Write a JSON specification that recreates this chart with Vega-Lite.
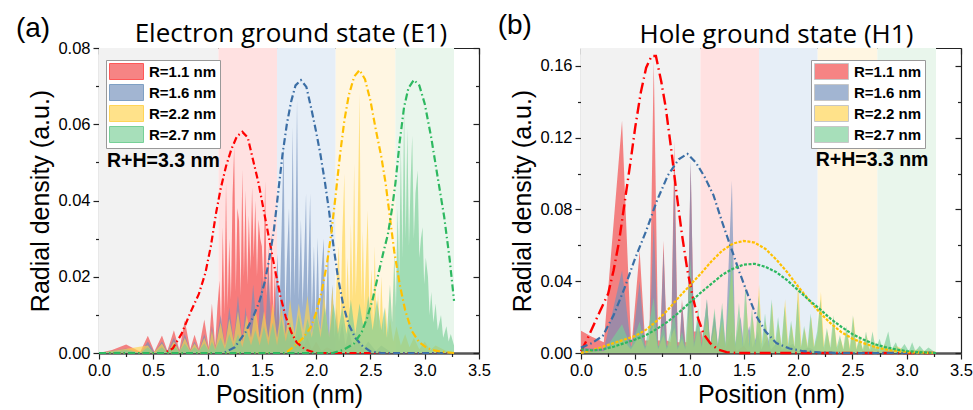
{
"$schema":"https://vega.github.io/schema/vega-lite/v6.json",
"padding":{"left":15,"top":12,"right":0,"bottom":0},
"config":{
 "font":"Liberation Sans",
 "view":{"stroke":null},
 "axis":{"labelFont":"Liberation Sans","titleFont":"Liberation Sans","labelFontSize":16.5,"titleFontSize":25,"titleFontWeight":"normal","labelColor":"#000","titleColor":"#000","tickColor":"#222","domainColor":"#222","grid":false,"zindex":2,"tickWidth":1.2,"domainWidth":1.2,"labelFlush":false},
 "legend":{"orient":"none","title":null,"symbolType":"M-2.125,-1H2.125V1H-2.125Z","symbolSize":256,"symbolOffset":9,"symbolStrokeColor":"#aaa","symbolStrokeWidth":1,"labelFont":"Liberation Sans","labelFontWeight":"bold","labelFontSize":15,"labelColor":"#000","fillColor":"#fff","strokeColor":"#999","padding":3,"rowPadding":0,"labelOffset":14}
},
"datasets":{
 "bands":[{"zone":"core","x0":0,"x1":1.1},{"zone":"s1","x0":1.1,"x1":1.64},{"zone":"s2","x0":1.64,"x1":2.18},{"zone":"s3","x0":2.18,"x1":2.73},{"zone":"s4","x0":2.73,"x1":3.27}],
 "areaA":[
{"R":1.1,"x":0,"y":0},{"R":1.1,"x":0.12,"y":0.0008},{"R":1.1,"x":0.25,"y":0.0022},{"R":1.1,"x":0.38,"y":0.0003},{"R":1.1,"x":0.45,"y":0.0045},{"R":1.1,"x":0.51,"y":0.0004},{"R":1.1,"x":0.58,"y":0.0046},{"R":1.1,"x":0.63,"y":0.0006},{"R":1.1,"x":0.69,"y":0.006},{"R":1.1,"x":0.74,"y":0.0008},{"R":1.1,"x":0.79,"y":0.0085},{"R":1.1,"x":0.84,"y":0.001},{"R":1.1,"x":0.88,"y":0.0048},{"R":1.1,"x":0.92,"y":0.0012},{"R":1.1,"x":0.97,"y":0.0088},{"R":1.1,"x":1.01,"y":0.0015},{"R":1.1,"x":1.04,"y":0.013},{"R":1.1,"x":1.07,"y":0.002},{"R":1.1,"x":1.09,"y":0.012},{"R":1.1,"x":1.11,"y":0.019},{"R":1.1,"x":1.125,"y":0.006},{"R":1.1,"x":1.14,"y":0.033},{"R":1.1,"x":1.155,"y":0.01},{"R":1.1,"x":1.17,"y":0.0445},{"R":1.1,"x":1.185,"y":0.012},{"R":1.1,"x":1.2,"y":0.03},{"R":1.1,"x":1.215,"y":0.014},{"R":1.1,"x":1.23,"y":0.041},{"R":1.1,"x":1.245,"y":0.054},{"R":1.1,"x":1.26,"y":0.016},{"R":1.1,"x":1.275,"y":0.038},{"R":1.1,"x":1.29,"y":0.0347},{"R":1.1,"x":1.305,"y":0.015},{"R":1.1,"x":1.32,"y":0.048},{"R":1.1,"x":1.335,"y":0.02},{"R":1.1,"x":1.35,"y":0.0426},{"R":1.1,"x":1.365,"y":0.018},{"R":1.1,"x":1.38,"y":0.036},{"R":1.1,"x":1.395,"y":0.022},{"R":1.1,"x":1.41,"y":0.0435},{"R":1.1,"x":1.425,"y":0.025},{"R":1.1,"x":1.44,"y":0.04},{"R":1.1,"x":1.455,"y":0.02},{"R":1.1,"x":1.47,"y":0.035},{"R":1.1,"x":1.485,"y":0.03},{"R":1.1,"x":1.5,"y":0.028},{"R":1.1,"x":1.515,"y":0.018},{"R":1.1,"x":1.53,"y":0.045},{"R":1.1,"x":1.545,"y":0.015},{"R":1.1,"x":1.56,"y":0.028},{"R":1.1,"x":1.575,"y":0.012},{"R":1.1,"x":1.59,"y":0.032},{"R":1.1,"x":1.605,"y":0.01},{"R":1.1,"x":1.62,"y":0.022},{"R":1.1,"x":1.635,"y":0.008},{"R":1.1,"x":1.65,"y":0.016},{"R":1.1,"x":1.665,"y":0.006},{"R":1.1,"x":1.68,"y":0.012},{"R":1.1,"x":1.7,"y":0.004},{"R":1.1,"x":1.72,"y":0.009},{"R":1.1,"x":1.75,"y":0.003},{"R":1.1,"x":1.78,"y":0.007},{"R":1.1,"x":1.81,"y":0.002},{"R":1.1,"x":1.84,"y":0.005},{"R":1.1,"x":1.88,"y":0.0015},{"R":1.1,"x":1.92,"y":0.004},{"R":1.1,"x":1.96,"y":0.001},{"R":1.1,"x":2.0,"y":0.003},{"R":1.1,"x":2.05,"y":0.0005},{"R":1.1,"x":2.1,"y":0.0015},{"R":1.1,"x":2.2,"y":0},{"R":1.1,"x":3.27,"y":0},
{"R":1.6,"x":0,"y":0},{"R":1.6,"x":0.25,"y":0.0012},{"R":1.6,"x":0.38,"y":0},{"R":1.6,"x":0.45,"y":0.003},{"R":1.6,"x":0.51,"y":0.0002},{"R":1.6,"x":0.58,"y":0.003},{"R":1.6,"x":0.63,"y":0.0003},{"R":1.6,"x":0.69,"y":0.004},{"R":1.6,"x":0.74,"y":0.0004},{"R":1.6,"x":0.79,"y":0.005},{"R":1.6,"x":0.84,"y":0.0005},{"R":1.6,"x":0.88,"y":0.003},{"R":1.6,"x":0.92,"y":0.0006},{"R":1.6,"x":0.97,"y":0.005},{"R":1.6,"x":1.01,"y":0.0008},{"R":1.6,"x":1.04,"y":0.007},{"R":1.6,"x":1.07,"y":0.001},{"R":1.6,"x":1.12,"y":0.01},{"R":1.6,"x":1.16,"y":0.002},{"R":1.6,"x":1.2,"y":0.012},{"R":1.6,"x":1.24,"y":0.003},{"R":1.6,"x":1.28,"y":0.015},{"R":1.6,"x":1.32,"y":0.003},{"R":1.6,"x":1.35,"y":0.012},{"R":1.6,"x":1.38,"y":0.004},{"R":1.6,"x":1.42,"y":0.018},{"R":1.6,"x":1.46,"y":0.004},{"R":1.6,"x":1.5,"y":0.02},{"R":1.6,"x":1.53,"y":0.005},{"R":1.6,"x":1.56,"y":0.022},{"R":1.6,"x":1.59,"y":0.005},{"R":1.6,"x":1.62,"y":0.012},{"R":1.6,"x":1.645,"y":0.026},{"R":1.6,"x":1.66,"y":0.008},{"R":1.6,"x":1.68,"y":0.03},{"R":1.6,"x":1.7,"y":0.0558},{"R":1.6,"x":1.715,"y":0.01},{"R":1.6,"x":1.73,"y":0.024},{"R":1.6,"x":1.75,"y":0.038},{"R":1.6,"x":1.765,"y":0.012},{"R":1.6,"x":1.784,"y":0.0593},{"R":1.6,"x":1.8,"y":0.015},{"R":1.6,"x":1.81,"y":0.03},{"R":1.6,"x":1.824,"y":0.0663},{"R":1.6,"x":1.84,"y":0.014},{"R":1.6,"x":1.86,"y":0.035},{"R":1.6,"x":1.875,"y":0.012},{"R":1.6,"x":1.89,"y":0.025},{"R":1.6,"x":1.907,"y":0.0418},{"R":1.6,"x":1.92,"y":0.013},{"R":1.6,"x":1.945,"y":0.0418},{"R":1.6,"x":1.96,"y":0.01},{"R":1.6,"x":1.98,"y":0.028},{"R":1.6,"x":1.995,"y":0.008},{"R":1.6,"x":2.014,"y":0.0303},{"R":1.6,"x":2.03,"y":0.008},{"R":1.6,"x":2.05,"y":0.022},{"R":1.6,"x":2.07,"y":0.03},{"R":1.6,"x":2.085,"y":0.006},{"R":1.6,"x":2.11,"y":0.028},{"R":1.6,"x":2.125,"y":0.005},{"R":1.6,"x":2.15,"y":0.018},{"R":1.6,"x":2.17,"y":0.004},{"R":1.6,"x":2.19,"y":0.012},{"R":1.6,"x":2.21,"y":0.003},{"R":1.6,"x":2.24,"y":0.008},{"R":1.6,"x":2.27,"y":0.002},{"R":1.6,"x":2.3,"y":0.006},{"R":1.6,"x":2.34,"y":0.0015},{"R":1.6,"x":2.38,"y":0.004},{"R":1.6,"x":2.43,"y":0.001},{"R":1.6,"x":2.48,"y":0.003},{"R":1.6,"x":2.55,"y":0.0005},{"R":1.6,"x":2.6,"y":0.002},{"R":1.6,"x":2.7,"y":0},{"R":1.6,"x":3.27,"y":0},
{"R":2.2,"x":0,"y":0},{"R":2.2,"x":0.45,"y":0.002},{"R":2.2,"x":0.5,"y":0},{"R":2.2,"x":0.58,"y":0.0025},{"R":2.2,"x":0.63,"y":0},{"R":2.2,"x":0.69,"y":0.003},{"R":2.2,"x":0.74,"y":0.0003},{"R":2.2,"x":0.79,"y":0.004},{"R":2.2,"x":0.84,"y":0.0005},{"R":2.2,"x":0.88,"y":0.0025},{"R":2.2,"x":0.92,"y":0.0005},{"R":2.2,"x":0.97,"y":0.004},{"R":2.2,"x":1.01,"y":0.0008},{"R":2.2,"x":1.04,"y":0.006},{"R":2.2,"x":1.07,"y":0.001},{"R":2.2,"x":1.12,"y":0.008},{"R":2.2,"x":1.16,"y":0.002},{"R":2.2,"x":1.2,"y":0.009},{"R":2.2,"x":1.24,"y":0.003},{"R":2.2,"x":1.28,"y":0.011},{"R":2.2,"x":1.32,"y":0.003},{"R":2.2,"x":1.36,"y":0.01},{"R":2.2,"x":1.4,"y":0.004},{"R":2.2,"x":1.44,"y":0.012},{"R":2.2,"x":1.48,"y":0.004},{"R":2.2,"x":1.52,"y":0.011},{"R":2.2,"x":1.56,"y":0.004},{"R":2.2,"x":1.6,"y":0.013},{"R":2.2,"x":1.64,"y":0.004},{"R":2.2,"x":1.68,"y":0.012},{"R":2.2,"x":1.72,"y":0.005},{"R":2.2,"x":1.76,"y":0.014},{"R":2.2,"x":1.8,"y":0.005},{"R":2.2,"x":1.84,"y":0.013},{"R":2.2,"x":1.88,"y":0.006},{"R":2.2,"x":1.92,"y":0.015},{"R":2.2,"x":1.96,"y":0.005},{"R":2.2,"x":2.0,"y":0.012},{"R":2.2,"x":2.04,"y":0.006},{"R":2.2,"x":2.07,"y":0.016},{"R":2.2,"x":2.1,"y":0.008},{"R":2.2,"x":2.12,"y":0.004},{"R":2.2,"x":2.15,"y":0.0175},{"R":2.2,"x":2.17,"y":0.006},{"R":2.2,"x":2.19,"y":0.02},{"R":2.2,"x":2.21,"y":0.028},{"R":2.2,"x":2.225,"y":0.008},{"R":2.2,"x":2.24,"y":0.03},{"R":2.2,"x":2.26,"y":0.047},{"R":2.2,"x":2.275,"y":0.012},{"R":2.2,"x":2.29,"y":0.025},{"R":2.2,"x":2.305,"y":0.01},{"R":2.2,"x":2.32,"y":0.034},{"R":2.2,"x":2.335,"y":0.014},{"R":2.2,"x":2.35,"y":0.0497},{"R":2.2,"x":2.365,"y":0.015},{"R":2.2,"x":2.38,"y":0.03},{"R":2.2,"x":2.4,"y":0.068},{"R":2.2,"x":2.415,"y":0.014},{"R":2.2,"x":2.43,"y":0.032},{"R":2.2,"x":2.445,"y":0.012},{"R":2.2,"x":2.46,"y":0.025},{"R":2.2,"x":2.475,"y":0.0374},{"R":2.2,"x":2.49,"y":0.012},{"R":2.2,"x":2.51,"y":0.022},{"R":2.2,"x":2.525,"y":0.008},{"R":2.2,"x":2.54,"y":0.028},{"R":2.2,"x":2.555,"y":0.007},{"R":2.2,"x":2.57,"y":0.016},{"R":2.2,"x":2.585,"y":0.006},{"R":2.2,"x":2.6,"y":0.02},{"R":2.2,"x":2.62,"y":0.005},{"R":2.2,"x":2.64,"y":0.012},{"R":2.2,"x":2.66,"y":0.004},{"R":2.2,"x":2.68,"y":0.009},{"R":2.2,"x":2.71,"y":0.003},{"R":2.2,"x":2.74,"y":0.007},{"R":2.2,"x":2.78,"y":0.002},{"R":2.2,"x":2.82,"y":0.005},{"R":2.2,"x":2.86,"y":0.0015},{"R":2.2,"x":2.9,"y":0.004},{"R":2.2,"x":2.95,"y":0.001},{"R":2.2,"x":3.0,"y":0.003},{"R":2.2,"x":3.05,"y":0.0008},{"R":2.2,"x":3.1,"y":0.002},{"R":2.2,"x":3.2,"y":0.0005},{"R":2.2,"x":3.27,"y":0},
{"R":2.7,"x":0,"y":0},{"R":2.7,"x":0.25,"y":0.0008},{"R":2.7,"x":0.38,"y":0},{"R":2.7,"x":0.45,"y":0.0015},{"R":2.7,"x":0.51,"y":0},{"R":2.7,"x":0.58,"y":0.0015},{"R":2.7,"x":0.63,"y":0.0002},{"R":2.7,"x":0.69,"y":0.002},{"R":2.7,"x":0.74,"y":0.0003},{"R":2.7,"x":0.79,"y":0.0025},{"R":2.7,"x":0.84,"y":0.0004},{"R":2.7,"x":0.88,"y":0.0015},{"R":2.7,"x":0.92,"y":0.0005},{"R":2.7,"x":0.97,"y":0.0025},{"R":2.7,"x":1.01,"y":0.0006},{"R":2.7,"x":1.04,"y":0.003},{"R":2.7,"x":1.07,"y":0.0008},{"R":2.7,"x":1.12,"y":0.004},{"R":2.7,"x":1.16,"y":0.001},{"R":2.7,"x":1.2,"y":0.005},{"R":2.7,"x":1.24,"y":0.0015},{"R":2.7,"x":1.28,"y":0.005},{"R":2.7,"x":1.32,"y":0.0015},{"R":2.7,"x":1.36,"y":0.006},{"R":2.7,"x":1.4,"y":0.002},{"R":2.7,"x":1.44,"y":0.006},{"R":2.7,"x":1.48,"y":0.002},{"R":2.7,"x":1.52,"y":0.007},{"R":2.7,"x":1.56,"y":0.002},{"R":2.7,"x":1.6,"y":0.008},{"R":2.7,"x":1.64,"y":0.002},{"R":2.7,"x":1.68,"y":0.009},{"R":2.7,"x":1.72,"y":0.003},{"R":2.7,"x":1.76,"y":0.008},{"R":2.7,"x":1.8,"y":0.003},{"R":2.7,"x":1.84,"y":0.01},{"R":2.7,"x":1.88,"y":0.003},{"R":2.7,"x":1.92,"y":0.009},{"R":2.7,"x":1.96,"y":0.004},{"R":2.7,"x":2.0,"y":0.011},{"R":2.7,"x":2.04,"y":0.004},{"R":2.7,"x":2.08,"y":0.012},{"R":2.7,"x":2.12,"y":0.004},{"R":2.7,"x":2.16,"y":0.013},{"R":2.7,"x":2.2,"y":0.005},{"R":2.7,"x":2.24,"y":0.012},{"R":2.7,"x":2.28,"y":0.005},{"R":2.7,"x":2.32,"y":0.014},{"R":2.7,"x":2.36,"y":0.005},{"R":2.7,"x":2.4,"y":0.013},{"R":2.7,"x":2.44,"y":0.006},{"R":2.7,"x":2.48,"y":0.015},{"R":2.7,"x":2.52,"y":0.006},{"R":2.7,"x":2.56,"y":0.014},{"R":2.7,"x":2.6,"y":0.006},{"R":2.7,"x":2.63,"y":0.012},{"R":2.7,"x":2.65,"y":0.004},{"R":2.7,"x":2.68,"y":0.018},{"R":2.7,"x":2.7,"y":0.008},{"R":2.7,"x":2.72,"y":0.026},{"R":2.7,"x":2.735,"y":0.012},{"R":2.7,"x":2.75,"y":0.038},{"R":2.7,"x":2.765,"y":0.02},{"R":2.7,"x":2.78,"y":0.054},{"R":2.7,"x":2.795,"y":0.025},{"R":2.7,"x":2.81,"y":0.0637},{"R":2.7,"x":2.825,"y":0.03},{"R":2.7,"x":2.84,"y":0.059},{"R":2.7,"x":2.855,"y":0.028},{"R":2.7,"x":2.87,"y":0.045},{"R":2.7,"x":2.885,"y":0.057},{"R":2.7,"x":2.9,"y":0.03},{"R":2.7,"x":2.915,"y":0.042},{"R":2.7,"x":2.935,"y":0.0479},{"R":2.7,"x":2.95,"y":0.025},{"R":2.7,"x":2.965,"y":0.03},{"R":2.7,"x":2.98,"y":0.033},{"R":2.7,"x":2.995,"y":0.018},{"R":2.7,"x":3.01,"y":0.025},{"R":2.7,"x":3.03,"y":0.02},{"R":2.7,"x":3.045,"y":0.01},{"R":2.7,"x":3.06,"y":0.016},{"R":2.7,"x":3.08,"y":0.008},{"R":2.7,"x":3.1,"y":0.013},{"R":2.7,"x":3.12,"y":0.006},{"R":2.7,"x":3.15,"y":0.01},{"R":2.7,"x":3.17,"y":0.004},{"R":2.7,"x":3.2,"y":0.007},{"R":2.7,"x":3.22,"y":0.003},{"R":2.7,"x":3.24,"y":0.005},{"R":2.7,"x":3.27,"y":0.002}
 ],
 "curveA":[
{"S":1.1,"x":0,"y":0},{"S":1.1,"x":0.6,"y":0},{"S":1.1,"x":0.68,"y":0.0012},{"S":1.1,"x":0.76,"y":0.005},{"S":1.1,"x":0.84,"y":0.0105},{"S":1.1,"x":0.92,"y":0.0155},{"S":1.1,"x":0.98,"y":0.021},{"S":1.1,"x":1.03,"y":0.028},{"S":1.1,"x":1.08,"y":0.037},{"S":1.1,"x":1.12,"y":0.043},{"S":1.1,"x":1.17,"y":0.049},{"S":1.1,"x":1.22,"y":0.0535},{"S":1.1,"x":1.27,"y":0.0568},{"S":1.1,"x":1.32,"y":0.058},{"S":1.1,"x":1.37,"y":0.0565},{"S":1.1,"x":1.42,"y":0.0505},{"S":1.1,"x":1.47,"y":0.0445},{"S":1.1,"x":1.52,"y":0.037},{"S":1.1,"x":1.57,"y":0.0295},{"S":1.1,"x":1.62,"y":0.022},{"S":1.1,"x":1.67,"y":0.015},{"S":1.1,"x":1.72,"y":0.0095},{"S":1.1,"x":1.77,"y":0.0055},{"S":1.1,"x":1.82,"y":0.0028},{"S":1.1,"x":1.9,"y":0.0009},{"S":1.1,"x":2.0,"y":0},{"S":1.1,"x":3.27,"y":0},
{"S":1.6,"x":0,"y":0},{"S":1.6,"x":1.15,"y":0},{"S":1.6,"x":1.25,"y":0.0015},{"S":1.6,"x":1.35,"y":0.0055},{"S":1.6,"x":1.42,"y":0.0095},{"S":1.6,"x":1.48,"y":0.0137},{"S":1.6,"x":1.53,"y":0.019},{"S":1.6,"x":1.57,"y":0.025},{"S":1.6,"x":1.61,"y":0.032},{"S":1.6,"x":1.65,"y":0.042},{"S":1.6,"x":1.69,"y":0.052},{"S":1.6,"x":1.73,"y":0.06},{"S":1.6,"x":1.77,"y":0.066},{"S":1.6,"x":1.81,"y":0.0702},{"S":1.6,"x":1.86,"y":0.0716},{"S":1.6,"x":1.91,"y":0.0698},{"S":1.6,"x":1.96,"y":0.0635},{"S":1.6,"x":2.0,"y":0.058},{"S":1.6,"x":2.04,"y":0.052},{"S":1.6,"x":2.08,"y":0.045},{"S":1.6,"x":2.12,"y":0.037},{"S":1.6,"x":2.16,"y":0.028},{"S":1.6,"x":2.2,"y":0.02},{"S":1.6,"x":2.25,"y":0.0125},{"S":1.6,"x":2.3,"y":0.0075},{"S":1.6,"x":2.36,"y":0.004},{"S":1.6,"x":2.42,"y":0.002},{"S":1.6,"x":2.5,"y":0.0004},{"S":1.6,"x":2.6,"y":0},{"S":1.6,"x":3.27,"y":0},
{"S":2.2,"x":0,"y":0},{"S":2.2,"x":1.72,"y":0},{"S":2.2,"x":1.8,"y":0.0018},{"S":2.2,"x":1.88,"y":0.004},{"S":2.2,"x":1.95,"y":0.0067},{"S":2.2,"x":2.0,"y":0.0105},{"S":2.2,"x":2.05,"y":0.016},{"S":2.2,"x":2.1,"y":0.0235},{"S":2.2,"x":2.14,"y":0.0315},{"S":2.2,"x":2.18,"y":0.0415},{"S":2.2,"x":2.22,"y":0.052},{"S":2.2,"x":2.26,"y":0.061},{"S":2.2,"x":2.3,"y":0.0675},{"S":2.2,"x":2.35,"y":0.0725},{"S":2.2,"x":2.4,"y":0.0742},{"S":2.2,"x":2.45,"y":0.0718},{"S":2.2,"x":2.5,"y":0.0662},{"S":2.2,"x":2.55,"y":0.0585},{"S":2.2,"x":2.6,"y":0.0515},{"S":2.2,"x":2.64,"y":0.0445},{"S":2.2,"x":2.68,"y":0.0355},{"S":2.2,"x":2.72,"y":0.0265},{"S":2.2,"x":2.77,"y":0.018},{"S":2.2,"x":2.82,"y":0.0112},{"S":2.2,"x":2.88,"y":0.0058},{"S":2.2,"x":2.95,"y":0.0028},{"S":2.2,"x":3.02,"y":0.0013},{"S":2.2,"x":3.1,"y":0.0006},{"S":2.2,"x":3.2,"y":0.0002},{"S":2.2,"x":3.27,"y":0},
{"S":2.7,"x":0,"y":0},{"S":2.7,"x":2.15,"y":0},{"S":2.7,"x":2.25,"y":0.0008},{"S":2.7,"x":2.35,"y":0.0025},{"S":2.7,"x":2.42,"y":0.0055},{"S":2.7,"x":2.47,"y":0.0093},{"S":2.7,"x":2.52,"y":0.014},{"S":2.7,"x":2.566,"y":0.0198},{"S":2.7,"x":2.62,"y":0.0265},{"S":2.7,"x":2.66,"y":0.031},{"S":2.7,"x":2.7,"y":0.038},{"S":2.7,"x":2.73,"y":0.0445},{"S":2.7,"x":2.77,"y":0.0555},{"S":2.7,"x":2.81,"y":0.0645},{"S":2.7,"x":2.85,"y":0.0695},{"S":2.7,"x":2.9,"y":0.0716},{"S":2.7,"x":2.95,"y":0.0702},{"S":2.7,"x":3.0,"y":0.0654},{"S":2.7,"x":3.06,"y":0.0565},{"S":2.7,"x":3.12,"y":0.046},{"S":2.7,"x":3.18,"y":0.0356},{"S":2.7,"x":3.23,"y":0.0245},{"S":2.7,"x":3.27,"y":0.0137}
 ],
 "areaB":[
{"R":1.1,"x":0,"y":0.0124},{"R":1.1,"x":0.1,"y":0.009},{"R":1.1,"x":0.21,"y":0.006},{"R":1.1,"x":0.378,"y":0.1295},{"R":1.1,"x":0.46,"y":0.007},{"R":1.1,"x":0.47,"y":0.007},{"R":1.1,"x":0.54,"y":0.057},{"R":1.1,"x":0.59,"y":0.007},{"R":1.1,"x":0.63,"y":0.007},{"R":1.1,"x":0.67,"y":0.163},{"R":1.1,"x":0.71,"y":0.007},{"R":1.1,"x":0.73,"y":0.007},{"R":1.1,"x":0.76,"y":0.0626},{"R":1.1,"x":0.79,"y":0.007},{"R":1.1,"x":0.83,"y":0.006},{"R":1.1,"x":0.86,"y":0.118},{"R":1.1,"x":0.89,"y":0.006},{"R":1.1,"x":0.91,"y":0.006},{"R":1.1,"x":0.93,"y":0.03},{"R":1.1,"x":0.96,"y":0.006},{"R":1.1,"x":0.98,"y":0.006},{"R":1.1,"x":1.01,"y":0.105},{"R":1.1,"x":1.04,"y":0.012},{"R":1.1,"x":1.08,"y":0.012},{"R":1.1,"x":1.11,"y":0.012},{"R":1.1,"x":1.13,"y":0.003},{"R":1.1,"x":1.16,"y":0.028},{"R":1.1,"x":1.19,"y":0.003},{"R":1.1,"x":1.23,"y":0.02},{"R":1.1,"x":1.26,"y":0.003},{"R":1.1,"x":1.3,"y":0.015},{"R":1.1,"x":1.33,"y":0.002},{"R":1.1,"x":1.39,"y":0.012},{"R":1.1,"x":1.43,"y":0.001},{"R":1.1,"x":1.5,"y":0.004},{"R":1.1,"x":1.55,"y":0},{"R":1.1,"x":3.27,"y":0},
{"R":1.6,"x":0,"y":0.003},{"R":1.6,"x":0.21,"y":0.002},{"R":1.6,"x":0.378,"y":0.046},{"R":1.6,"x":0.46,"y":0.004},{"R":1.6,"x":0.47,"y":0.004},{"R":1.6,"x":0.54,"y":0.04},{"R":1.6,"x":0.59,"y":0.004},{"R":1.6,"x":0.63,"y":0.004},{"R":1.6,"x":0.67,"y":0.074},{"R":1.6,"x":0.71,"y":0.004},{"R":1.6,"x":0.73,"y":0.004},{"R":1.6,"x":0.76,"y":0.058},{"R":1.6,"x":0.79,"y":0.004},{"R":1.6,"x":0.83,"y":0.004},{"R":1.6,"x":0.86,"y":0.1016},{"R":1.6,"x":0.89,"y":0.004},{"R":1.6,"x":0.91,"y":0.004},{"R":1.6,"x":0.93,"y":0.028},{"R":1.6,"x":0.96,"y":0.004},{"R":1.6,"x":0.98,"y":0.004},{"R":1.6,"x":1.01,"y":0.108},{"R":1.6,"x":1.04,"y":0.005},{"R":1.6,"x":1.08,"y":0.02},{"R":1.6,"x":1.11,"y":0.004},{"R":1.6,"x":1.16,"y":0.03},{"R":1.6,"x":1.19,"y":0.004},{"R":1.6,"x":1.23,"y":0.022},{"R":1.6,"x":1.26,"y":0.004},{"R":1.6,"x":1.3,"y":0.025},{"R":1.6,"x":1.33,"y":0.004},{"R":1.6,"x":1.39,"y":0.096},{"R":1.6,"x":1.42,"y":0.005},{"R":1.6,"x":1.47,"y":0.02},{"R":1.6,"x":1.5,"y":0.004},{"R":1.6,"x":1.55,"y":0.015},{"R":1.6,"x":1.58,"y":0.003},{"R":1.6,"x":1.63,"y":0.012},{"R":1.6,"x":1.66,"y":0.002},{"R":1.6,"x":1.72,"y":0.009},{"R":1.6,"x":1.75,"y":0.002},{"R":1.6,"x":1.82,"y":0.007},{"R":1.6,"x":1.85,"y":0.002},{"R":1.6,"x":1.95,"y":0.005},{"R":1.6,"x":2.0,"y":0.001},{"R":1.6,"x":2.1,"y":0.003},{"R":1.6,"x":2.2,"y":0},{"R":1.6,"x":3.27,"y":0},
{"R":2.2,"x":0,"y":0.0005},{"R":2.2,"x":0.21,"y":0.001},{"R":2.2,"x":0.378,"y":0.008},{"R":2.2,"x":0.46,"y":0.002},{"R":2.2,"x":0.54,"y":0.01},{"R":2.2,"x":0.59,"y":0.002},{"R":2.2,"x":0.67,"y":0.016},{"R":2.2,"x":0.71,"y":0.002},{"R":2.2,"x":0.76,"y":0.01},{"R":2.2,"x":0.79,"y":0.002},{"R":2.2,"x":0.86,"y":0.014},{"R":2.2,"x":0.89,"y":0.002},{"R":2.2,"x":0.93,"y":0.008},{"R":2.2,"x":0.96,"y":0.002},{"R":2.2,"x":1.01,"y":0.03},{"R":2.2,"x":1.04,"y":0.003},{"R":2.2,"x":1.08,"y":0.015},{"R":2.2,"x":1.11,"y":0.003},{"R":2.2,"x":1.16,"y":0.02},{"R":2.2,"x":1.19,"y":0.003},{"R":2.2,"x":1.23,"y":0.015},{"R":2.2,"x":1.26,"y":0.003},{"R":2.2,"x":1.3,"y":0.018},{"R":2.2,"x":1.33,"y":0.003},{"R":2.2,"x":1.39,"y":0.048},{"R":2.2,"x":1.42,"y":0.003},{"R":2.2,"x":1.46,"y":0.02},{"R":2.2,"x":1.49,"y":0.003},{"R":2.2,"x":1.52,"y":0.03},{"R":2.2,"x":1.55,"y":0.003},{"R":2.2,"x":1.58,"y":0.02},{"R":2.2,"x":1.61,"y":0.003},{"R":2.2,"x":1.64,"y":0.038},{"R":2.2,"x":1.67,"y":0.003},{"R":2.2,"x":1.7,"y":0.018},{"R":2.2,"x":1.73,"y":0.003},{"R":2.2,"x":1.76,"y":0.028},{"R":2.2,"x":1.79,"y":0.003},{"R":2.2,"x":1.82,"y":0.016},{"R":2.2,"x":1.85,"y":0.003},{"R":2.2,"x":1.88,"y":0.03},{"R":2.2,"x":1.91,"y":0.003},{"R":2.2,"x":1.94,"y":0.016},{"R":2.2,"x":1.97,"y":0.003},{"R":2.2,"x":2.0,"y":0.04},{"R":2.2,"x":2.03,"y":0.003},{"R":2.2,"x":2.06,"y":0.014},{"R":2.2,"x":2.09,"y":0.003},{"R":2.2,"x":2.12,"y":0.02},{"R":2.2,"x":2.15,"y":0.003},{"R":2.2,"x":2.18,"y":0.01},{"R":2.2,"x":2.21,"y":0.034},{"R":2.2,"x":2.24,"y":0.002},{"R":2.2,"x":2.27,"y":0.012},{"R":2.2,"x":2.3,"y":0.002},{"R":2.2,"x":2.33,"y":0.018},{"R":2.2,"x":2.36,"y":0.002},{"R":2.2,"x":2.39,"y":0.008},{"R":2.2,"x":2.42,"y":0.002},{"R":2.2,"x":2.45,"y":0.012},{"R":2.2,"x":2.48,"y":0.002},{"R":2.2,"x":2.51,"y":0.02},{"R":2.2,"x":2.54,"y":0.002},{"R":2.2,"x":2.57,"y":0.008},{"R":2.2,"x":2.6,"y":0.001},{"R":2.2,"x":2.63,"y":0.01},{"R":2.2,"x":2.66,"y":0.001},{"R":2.2,"x":2.7,"y":0.006},{"R":2.2,"x":2.75,"y":0.001},{"R":2.2,"x":2.8,"y":0.005},{"R":2.2,"x":2.85,"y":0.001},{"R":2.2,"x":2.9,"y":0.004},{"R":2.2,"x":3.0,"y":0.001},{"R":2.2,"x":3.1,"y":0.002},{"R":2.2,"x":3.27,"y":0},
{"R":2.7,"x":0,"y":0.001},{"R":2.7,"x":0.21,"y":0.001},{"R":2.7,"x":0.378,"y":0.016},{"R":2.7,"x":0.46,"y":0.003},{"R":2.7,"x":0.54,"y":0.0175},{"R":2.7,"x":0.59,"y":0.003},{"R":2.7,"x":0.67,"y":0.031},{"R":2.7,"x":0.71,"y":0.003},{"R":2.7,"x":0.76,"y":0.016},{"R":2.7,"x":0.79,"y":0.003},{"R":2.7,"x":0.86,"y":0.0225},{"R":2.7,"x":0.89,"y":0.003},{"R":2.7,"x":0.93,"y":0.012},{"R":2.7,"x":0.96,"y":0.003},{"R":2.7,"x":1.01,"y":0.053},{"R":2.7,"x":1.04,"y":0.005},{"R":2.7,"x":1.08,"y":0.025},{"R":2.7,"x":1.11,"y":0.004},{"R":2.7,"x":1.16,"y":0.03},{"R":2.7,"x":1.19,"y":0.004},{"R":2.7,"x":1.23,"y":0.025},{"R":2.7,"x":1.26,"y":0.004},{"R":2.7,"x":1.3,"y":0.028},{"R":2.7,"x":1.33,"y":0.005},{"R":2.7,"x":1.39,"y":0.055},{"R":2.7,"x":1.42,"y":0.005},{"R":2.7,"x":1.455,"y":0.028},{"R":2.7,"x":1.485,"y":0.005},{"R":2.7,"x":1.515,"y":0.0385},{"R":2.7,"x":1.545,"y":0.005},{"R":2.7,"x":1.575,"y":0.025},{"R":2.7,"x":1.605,"y":0.005},{"R":2.7,"x":1.635,"y":0.032},{"R":2.7,"x":1.665,"y":0.005},{"R":2.7,"x":1.695,"y":0.022},{"R":2.7,"x":1.725,"y":0.004},{"R":2.7,"x":1.755,"y":0.03},{"R":2.7,"x":1.785,"y":0.004},{"R":2.7,"x":1.815,"y":0.02},{"R":2.7,"x":1.845,"y":0.004},{"R":2.7,"x":1.875,"y":0.026},{"R":2.7,"x":1.905,"y":0.004},{"R":2.7,"x":1.935,"y":0.018},{"R":2.7,"x":1.965,"y":0.003},{"R":2.7,"x":1.995,"y":0.03},{"R":2.7,"x":2.025,"y":0.003},{"R":2.7,"x":2.055,"y":0.015},{"R":2.7,"x":2.085,"y":0.003},{"R":2.7,"x":2.115,"y":0.022},{"R":2.7,"x":2.145,"y":0.003},{"R":2.7,"x":2.175,"y":0.012},{"R":2.7,"x":2.205,"y":0.03},{"R":2.7,"x":2.235,"y":0.003},{"R":2.7,"x":2.265,"y":0.014},{"R":2.7,"x":2.295,"y":0.003},{"R":2.7,"x":2.325,"y":0.021},{"R":2.7,"x":2.355,"y":0.003},{"R":2.7,"x":2.385,"y":0.01},{"R":2.7,"x":2.415,"y":0.002},{"R":2.7,"x":2.445,"y":0.015},{"R":2.7,"x":2.475,"y":0.002},{"R":2.7,"x":2.505,"y":0.021},{"R":2.7,"x":2.535,"y":0.002},{"R":2.7,"x":2.565,"y":0.009},{"R":2.7,"x":2.595,"y":0.002},{"R":2.7,"x":2.625,"y":0.012},{"R":2.7,"x":2.655,"y":0.002},{"R":2.7,"x":2.685,"y":0.012},{"R":2.7,"x":2.715,"y":0.002},{"R":2.7,"x":2.75,"y":0.008},{"R":2.7,"x":2.78,"y":0.002},{"R":2.7,"x":2.83,"y":0.012},{"R":2.7,"x":2.86,"y":0.002},{"R":2.7,"x":2.9,"y":0.006},{"R":2.7,"x":2.93,"y":0.001},{"R":2.7,"x":2.98,"y":0.005},{"R":2.7,"x":3.02,"y":0.001},{"R":2.7,"x":3.05,"y":0.006},{"R":2.7,"x":3.08,"y":0.001},{"R":2.7,"x":3.12,"y":0.004},{"R":2.7,"x":3.16,"y":0.001},{"R":2.7,"x":3.2,"y":0.003},{"R":2.7,"x":3.27,"y":0}
 ],
 "curveB":[
{"S":1.1,"x":0,"y":0.001},{"S":1.1,"x":0.06,"y":0.008},{"S":1.1,"x":0.12,"y":0.016},{"S":1.1,"x":0.18,"y":0.024},{"S":1.1,"x":0.25,"y":0.033},{"S":1.1,"x":0.3,"y":0.046},{"S":1.1,"x":0.35,"y":0.062},{"S":1.1,"x":0.4,"y":0.083},{"S":1.1,"x":0.45,"y":0.104},{"S":1.1,"x":0.5,"y":0.126},{"S":1.1,"x":0.55,"y":0.145},{"S":1.1,"x":0.6,"y":0.159},{"S":1.1,"x":0.65,"y":0.1655},{"S":1.1,"x":0.69,"y":0.1655},{"S":1.1,"x":0.74,"y":0.151},{"S":1.1,"x":0.78,"y":0.137},{"S":1.1,"x":0.83,"y":0.114},{"S":1.1,"x":0.88,"y":0.089},{"S":1.1,"x":0.93,"y":0.066},{"S":1.1,"x":0.98,"y":0.046},{"S":1.1,"x":1.03,"y":0.031},{"S":1.1,"x":1.08,"y":0.019},{"S":1.1,"x":1.13,"y":0.0105},{"S":1.1,"x":1.19,"y":0.0055},{"S":1.1,"x":1.26,"y":0.002},{"S":1.1,"x":1.34,"y":0.0005},{"S":1.1,"x":1.44,"y":0},{"S":1.1,"x":3.27,"y":0},
{"S":1.6,"x":0,"y":0.003},{"S":1.6,"x":0.1,"y":0.0055},{"S":1.6,"x":0.2,"y":0.0095},{"S":1.6,"x":0.3,"y":0.021},{"S":1.6,"x":0.4,"y":0.036},{"S":1.6,"x":0.5,"y":0.053},{"S":1.6,"x":0.6,"y":0.068},{"S":1.6,"x":0.7,"y":0.085},{"S":1.6,"x":0.8,"y":0.099},{"S":1.6,"x":0.9,"y":0.108},{"S":1.6,"x":0.98,"y":0.111},{"S":1.6,"x":1.06,"y":0.106},{"S":1.6,"x":1.14,"y":0.098},{"S":1.6,"x":1.22,"y":0.088},{"S":1.6,"x":1.3,"y":0.073},{"S":1.6,"x":1.38,"y":0.059},{"S":1.6,"x":1.46,"y":0.045},{"S":1.6,"x":1.54,"y":0.032},{"S":1.6,"x":1.62,"y":0.02},{"S":1.6,"x":1.7,"y":0.012},{"S":1.6,"x":1.8,"y":0.0055},{"S":1.6,"x":1.92,"y":0.0025},{"S":1.6,"x":2.05,"y":0.001},{"S":1.6,"x":2.2,"y":0.0003},{"S":1.6,"x":2.4,"y":0},{"S":1.6,"x":3.27,"y":0},
{"S":2.2,"x":0,"y":0},{"S":2.2,"x":0.1,"y":0.0015},{"S":2.2,"x":0.2,"y":0.0035},{"S":2.2,"x":0.3,"y":0.0055},{"S":2.2,"x":0.4,"y":0.0075},{"S":2.2,"x":0.5,"y":0.0095},{"S":2.2,"x":0.6,"y":0.013},{"S":2.2,"x":0.7,"y":0.018},{"S":2.2,"x":0.8,"y":0.024},{"S":2.2,"x":0.9,"y":0.031},{"S":2.2,"x":1.0,"y":0.0375},{"S":2.2,"x":1.1,"y":0.044},{"S":2.2,"x":1.2,"y":0.051},{"S":2.2,"x":1.3,"y":0.057},{"S":2.2,"x":1.4,"y":0.061},{"S":2.2,"x":1.5,"y":0.0625},{"S":2.2,"x":1.6,"y":0.0615},{"S":2.2,"x":1.7,"y":0.058},{"S":2.2,"x":1.8,"y":0.052},{"S":2.2,"x":1.9,"y":0.045},{"S":2.2,"x":2.0,"y":0.037},{"S":2.2,"x":2.1,"y":0.0295},{"S":2.2,"x":2.2,"y":0.0225},{"S":2.2,"x":2.3,"y":0.0165},{"S":2.2,"x":2.4,"y":0.0115},{"S":2.2,"x":2.5,"y":0.008},{"S":2.2,"x":2.6,"y":0.0055},{"S":2.2,"x":2.7,"y":0.0035},{"S":2.2,"x":2.8,"y":0.002},{"S":2.2,"x":2.9,"y":0.0011},{"S":2.2,"x":3.0,"y":0.0005},{"S":2.2,"x":3.1,"y":0.0002},{"S":2.2,"x":3.27,"y":0},
{"S":2.7,"x":0,"y":0.002},{"S":2.7,"x":0.1,"y":0.0015},{"S":2.7,"x":0.2,"y":0.002},{"S":2.7,"x":0.3,"y":0.0035},{"S":2.7,"x":0.4,"y":0.0055},{"S":2.7,"x":0.5,"y":0.0075},{"S":2.7,"x":0.6,"y":0.01},{"S":2.7,"x":0.7,"y":0.0135},{"S":2.7,"x":0.8,"y":0.0175},{"S":2.7,"x":0.9,"y":0.0225},{"S":2.7,"x":1.0,"y":0.028},{"S":2.7,"x":1.1,"y":0.0335},{"S":2.7,"x":1.2,"y":0.0385},{"S":2.7,"x":1.3,"y":0.0435},{"S":2.7,"x":1.4,"y":0.047},{"S":2.7,"x":1.5,"y":0.0493},{"S":2.7,"x":1.6,"y":0.0497},{"S":2.7,"x":1.7,"y":0.048},{"S":2.7,"x":1.8,"y":0.045},{"S":2.7,"x":1.9,"y":0.0405},{"S":2.7,"x":2.0,"y":0.035},{"S":2.7,"x":2.1,"y":0.0295},{"S":2.7,"x":2.2,"y":0.0245},{"S":2.7,"x":2.3,"y":0.019},{"S":2.7,"x":2.4,"y":0.0145},{"S":2.7,"x":2.5,"y":0.0105},{"S":2.7,"x":2.6,"y":0.0075},{"S":2.7,"x":2.7,"y":0.005},{"S":2.7,"x":2.8,"y":0.0033},{"S":2.7,"x":2.9,"y":0.002},{"S":2.7,"x":3.0,"y":0.0011},{"S":2.7,"x":3.1,"y":0.0005},{"S":2.7,"x":3.27,"y":0}
 ]
},
"spacing":6,
"resolve":{"scale":{"y":"independent","color":"independent","fill":"independent","stroke":"independent"}},
"hconcat":[
 {
  "width":380,"height":305,
  "resolve":{"axis":{"x":"independent","y":"independent"}},
  "layer":[
   {"data":{"name":"bands"},"mark":{"type":"rect"},
    "encoding":{
     "x":{"field":"x0","type":"quantitative","scale":{"domain":[0,3.5],"nice":false},
      "axis":{"orient":"bottom","values":[0,0.5,1,1.5,2,2.5,3,3.5],"format":".1f","tickSize":6,"labelPadding":3,"title":"Position (nm)","titlePadding":4,"domainWidth":2.5,"domainColor":"#555"}},
     "x2":{"field":"x1"},
     "fill":{"field":"zone","type":"nominal","scale":{"domain":["core","s1","s2","s3","s4"],"range":["#f2f2f2","#ffe1e1","#e6eef7","#fff6e2","#e9f6ec"]},"legend":null}
    }},
   {"data":{"name":"areaA"},"mark":{"type":"area","opacity":0.65},
    "encoding":{
     "x":{"field":"x","type":"quantitative","scale":{"domain":[0,3.5],"nice":false},
      "axis":{"orient":"bottom","values":[0.25,0.75,1.25,1.75,2.25,2.75,3.25],"labels":false,"tickSize":3.5,"domain":false,"title":null}},
     "y":{"field":"y","type":"quantitative","stack":null,"scale":{"domain":[0,0.08],"nice":false},
      "axis":{"orient":"left","values":[0,0.02,0.04,0.06,0.08],"format":".2f","tickSize":6,"labelPadding":3,"title":"Radial density (a.u.)","titlePadding":4}},
     "color":{"field":"R","type":"nominal","scale":{"domain":[1.1,1.6,2.2,2.7],"range":["#f24343","#718fbb","#ffd44c","#79ce96"]},
      "legend":{"legendX":7,"legendY":12,"labelExpr":"'R=' + datum.label + ' nm'"}}
    }},
   {"data":{"name":"curveA"},"mark":{"type":"line","strokeWidth":2.2,"strokeDash":[7,3,1.5,3]},
    "encoding":{
     "x":{"field":"x","type":"quantitative","scale":{"domain":[0,3.5],"nice":false},
      "axis":{"orient":"top","values":[0,0.5,1,1.5,2,2.5,3,3.5],"labels":false,"tickSize":-6,"title":null}},
     "y":{"field":"y","type":"quantitative","scale":{"domain":[0,0.08],"nice":false},
      "axis":{"orient":"left","values":[0.01,0.03,0.05,0.07],"labels":false,"tickSize":3.5,"domain":false,"title":null}},
     "stroke":{"field":"S","type":"nominal","scale":{"domain":[1.1,1.6,2.2,2.7],"range":["#ff0000","#3b6ea5","#ffc000","#2db860"]},"legend":null}
    }},
   {"data":{"values":[{}]},"mark":{"type":"text","fontSize":19.5,"fontWeight":"bold","align":"left","baseline":"alphabetic","font":"Liberation Sans"},
    "encoding":{
     "text":{"value":"R+H=3.3 nm"},
     "x":{"datum":0.074,"type":"quantitative","scale":{"domain":[0,3.5],"nice":false},
      "axis":{"orient":"top","values":[0.25,0.75,1.25,1.75,2.25,2.75,3.25],"labels":false,"tickSize":-3.5,"domain":false,"title":null}},
     "y":{"datum":0.0487,"type":"quantitative","scale":{"domain":[0,0.08],"nice":false},
      "axis":{"orient":"right","values":[0,0.02,0.04,0.06,0.08],"labels":false,"tickSize":-6,"title":null}}
    }},
   {"data":{"values":[{}]},"mark":{"type":"text","fontSize":28,"align":"left","baseline":"middle","font":"Liberation Sans"},
    "encoding":{
     "text":{"value":"(a)"},
     "x":{"datum":-0.765,"type":"quantitative","scale":{"domain":[0,3.5],"nice":false},"axis":null},
     "y":{"datum":0.085,"type":"quantitative","scale":{"domain":[0,0.08],"nice":false},
      "axis":{"orient":"right","values":[0.01,0.03,0.05,0.07],"labels":false,"tickSize":-3.5,"domain":false,"title":null}}
    }},
   {"data":{"values":[{}]},"mark":{"type":"text","fontSize":26,"align":"center","baseline":"alphabetic","font":"Open Sans"},
    "encoding":{
     "text":{"value":"Electron ground state (E1)"},
     "x":{"datum":1.768,"type":"quantitative","scale":{"domain":[0,3.5],"nice":false},"axis":null},
     "y":{"datum":0.0816,"type":"quantitative","scale":{"domain":[0,0.08],"nice":false},"axis":null}
    }}
  ]
 },
 {
  "width":380,"height":305,
  "resolve":{"axis":{"x":"independent","y":"independent"}},
  "layer":[
   {"data":{"name":"bands"},"mark":{"type":"rect"},
    "encoding":{
     "x":{"field":"x0","type":"quantitative","scale":{"domain":[0,3.5],"nice":false},
      "axis":{"orient":"bottom","values":[0,0.5,1,1.5,2,2.5,3,3.5],"format":".1f","tickSize":6,"labelPadding":3,"title":"Position (nm)","titlePadding":4,"domainWidth":2.5,"domainColor":"#555"}},
     "x2":{"field":"x1"},
     "fill":{"field":"zone","type":"nominal","scale":{"domain":["core","s1","s2","s3","s4"],"range":["#f2f2f2","#ffe1e1","#e6eef7","#fff6e2","#e9f6ec"]},"legend":null}
    }},
   {"data":{"name":"areaB"},"mark":{"type":"area","opacity":0.65},
    "encoding":{
     "x":{"field":"x","type":"quantitative","scale":{"domain":[0,3.5],"nice":false},
      "axis":{"orient":"bottom","values":[0.25,0.75,1.25,1.75,2.25,2.75,3.25],"labels":false,"tickSize":3.5,"domain":false,"title":null}},
     "y":{"field":"y","type":"quantitative","stack":null,"scale":{"domain":[0,0.17],"nice":false},
      "axis":{"orient":"left","values":[0,0.04,0.08,0.12,0.16],"format":".2f","tickSize":6,"labelPadding":3,"title":"Radial density (a.u.)","titlePadding":4}},
     "color":{"field":"R","type":"nominal","scale":{"domain":[1.1,1.6,2.2,2.7],"range":["#f24343","#718fbb","#ffd44c","#79ce96"]},
      "legend":{"legendX":230,"legendY":12,"labelExpr":"'R=' + datum.label + ' nm'"}}
    }},
   {"data":{"name":"curveB"},"transform":[{"filter":"datum.S == 1.1"}],"mark":{"type":"line","strokeWidth":2.4,"strokeDash":[11,4,1.5,4],"color":"#ff0000"},
    "encoding":{
     "x":{"field":"x","type":"quantitative","scale":{"domain":[0,3.5],"nice":false},
      "axis":{"orient":"top","values":[0,0.5,1,1.5,2,2.5,3,3.5],"labels":false,"tickSize":-6,"title":null}},
     "y":{"field":"y","type":"quantitative","scale":{"domain":[0,0.17],"nice":false},
      "axis":{"orient":"left","values":[0.02,0.06,0.1,0.14],"labels":false,"tickSize":3.5,"domain":false,"title":null}}
    }},
   {"data":{"name":"curveB"},"transform":[{"filter":"datum.S == 1.6"}],"mark":{"type":"line","strokeWidth":2.2,"strokeDash":[7,3,1.5,3],"color":"#3b6ea5"},
    "encoding":{
     "x":{"field":"x","type":"quantitative","scale":{"domain":[0,3.5],"nice":false},"axis":null},
     "y":{"field":"y","type":"quantitative","scale":{"domain":[0,0.17],"nice":false},"axis":null}
    }},
   {"data":{"name":"curveB"},"transform":[{"filter":"datum.S > 2"}],"mark":{"type":"line","strokeWidth":2.2,"strokeDash":[3,1.5]},
    "encoding":{
     "x":{"field":"x","type":"quantitative","scale":{"domain":[0,3.5],"nice":false},"axis":null},
     "y":{"field":"y","type":"quantitative","scale":{"domain":[0,0.17],"nice":false},"axis":null},
     "stroke":{"field":"S","type":"nominal","scale":{"domain":[2.2,2.7],"range":["#ffc000","#2db860"]},"legend":null}
    }},
   {"data":{"values":[{}]},"mark":{"type":"text","fontSize":19.5,"fontWeight":"bold","align":"left","baseline":"alphabetic","font":"Liberation Sans"},
    "encoding":{
     "text":{"value":"R+H=3.3 nm"},
     "x":{"datum":2.162,"type":"quantitative","scale":{"domain":[0,3.5],"nice":false},
      "axis":{"orient":"top","values":[0.25,0.75,1.25,1.75,2.25,2.75,3.25],"labels":false,"tickSize":-3.5,"domain":false,"title":null}},
     "y":{"datum":0.1044,"type":"quantitative","scale":{"domain":[0,0.17],"nice":false},
      "axis":{"orient":"right","values":[0,0.04,0.08,0.12,0.16],"labels":false,"tickSize":-6,"title":null}}
    }},
   {"data":{"values":[{}]},"mark":{"type":"text","fontSize":28,"align":"left","baseline":"middle","font":"Liberation Sans"},
    "encoding":{
     "text":{"value":"(b)"},
     "x":{"datum":-0.767,"type":"quantitative","scale":{"domain":[0,3.5],"nice":false},"axis":null},
     "y":{"datum":0.182,"type":"quantitative","scale":{"domain":[0,0.17],"nice":false},
      "axis":{"orient":"right","values":[0.02,0.06,0.1,0.14],"labels":false,"tickSize":-3.5,"domain":false,"title":null}}
    }},
   {"data":{"values":[{}]},"mark":{"type":"text","fontSize":26,"align":"center","baseline":"alphabetic","font":"Open Sans"},
    "encoding":{
     "text":{"value":"Hole ground state (H1)"},
     "x":{"datum":1.8,"type":"quantitative","scale":{"domain":[0,3.5],"nice":false},"axis":null},
     "y":{"datum":0.173,"type":"quantitative","scale":{"domain":[0,0.17],"nice":false},"axis":null}
    }}
  ]
 }
]
}
